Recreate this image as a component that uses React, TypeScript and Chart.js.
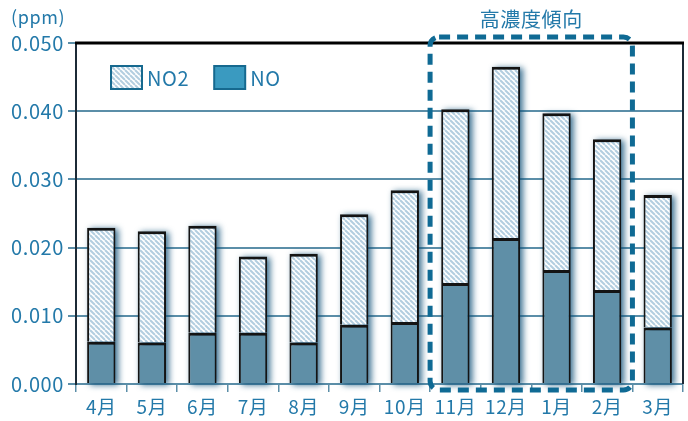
import React, { useEffect, useRef } from "react";
import { Chart, registerables } from "chart.js";

Chart.register(...registerables);

const months = ["4月", "5月", "6月", "7月", "8月", "9月", "10月", "11月", "12月", "1月", "2月", "3月"];
const noValues = [0.0062, 0.0061, 0.0075, 0.0075, 0.0061, 0.0087, 0.0091, 0.0148, 0.0214, 0.0167, 0.0138, 0.0083];
const no2Values = [0.0167, 0.0163, 0.0157, 0.0112, 0.013, 0.0162, 0.0193, 0.0255, 0.0251, 0.023, 0.0221, 0.0194];
const yTicks = [0, 0.01, 0.02, 0.03, 0.04, 0.05];
const highStartIndex = 7; // 11月
const highEndIndex = 10; // 2月
const highLabel = "高濃度傾向";
const unitLabel = "(ppm)";

const TEXT = "#2379a9";
const GRID = "#5b8ea8";
const NO_FILL = "#5f8fa7";
const LEGEND_NO_FILL = "#3a9ac0";
const LEGEND_BORDER = "#16698f";
const DASH = "#0f6a94";
const FONT = "'Noto Sans CJK JP', 'Noto Sans', sans-serif";

function makeHatch(): CanvasPattern | string {
  const p = 5;
  const c = document.createElement("canvas");
  c.width = p;
  c.height = p;
  const g = c.getContext("2d");
  if (!g) return "#ffffff";
  g.fillStyle = "#ffffff";
  g.fillRect(0, 0, p, p);
  g.strokeStyle = "#b3cee0";
  g.lineWidth = 2;
  for (const x0 of [-p, 0, p]) {
    g.beginPath();
    g.moveTo(x0, 0);
    g.lineTo(x0 + p, p);
    g.stroke();
  }
  const pat = g.createPattern(c, "repeat");
  return pat || "#ffffff";
}

export default function App() {
  const ref = useRef<HTMLCanvasElement | null>(null);

  useEffect(() => {
    const canvas = ref.current;
    if (!canvas) return;
    const hatch = makeHatch();

    const spacingPlugin = {
      id: "spacing",
      beforeDraw(chart: any) {
        (chart.ctx as any).letterSpacing = "0.6px";
      },
    };

    const shadowPlugin = {
      id: "barShadow",
      beforeDatasetsDraw(chart: any) {
        const ctx = chart.ctx;
        const base = chart.scales.y.getPixelForValue(0);
        const topMeta = chart.getDatasetMeta(chart.data.datasets.length - 1);
        ctx.save();
        ctx.filter = "blur(3px)";
        ctx.fillStyle = "rgba(15,80,120,0.8)";
        topMeta.data.forEach((el: any) => {
          const props = el.getProps(["x", "y", "width"], true);
          const l = props.x - props.width / 2;
          ctx.fillRect(l + 3, props.y + 1, props.width, base - props.y);
        });
        ctx.restore();
      },
    };

    const framePlugin = {
      id: "frame",
      afterDatasetsDraw(chart: any) {
        const { ctx, chartArea } = chart;
        const { left, right, top, bottom } = chartArea;
        ctx.save();
        ctx.strokeStyle = "#1c2a36";
        ctx.lineWidth = 2;
        ctx.beginPath();
        ctx.moveTo(left, top);
        ctx.lineTo(left, bottom);
        ctx.moveTo(right, top);
        ctx.lineTo(right, bottom);
        ctx.stroke();
        ctx.strokeStyle = "#000000";
        ctx.lineWidth = 3;
        ctx.beginPath();
        ctx.moveTo(left - 1, top);
        ctx.lineTo(right + 1, top);
        ctx.stroke();

        // unit label
        ctx.fillStyle = TEXT;
        ctx.font = `18px ${FONT}`;
        ctx.textAlign = "left";
        ctx.textBaseline = "middle";
        ctx.fillText(unitLabel, 11, 17);

        // legend
        const items = [
          { label: chart.data.datasets[1].label, fill: hatch },
          { label: chart.data.datasets[0].label, fill: LEGEND_NO_FILL },
        ];
        let x = left + 35;
        const y = top + 23;
        ctx.font = `20px ${FONT}`;
        items.forEach((it) => {
          ctx.fillStyle = it.fill as any;
          ctx.fillRect(x, y, 31, 23);
          ctx.strokeStyle = LEGEND_BORDER;
          ctx.lineWidth = 2;
          ctx.strokeRect(x, y, 31, 23);
          ctx.fillStyle = TEXT;
          ctx.fillText(it.label, x + 36, y + 12);
          x += 36 + ctx.measureText(it.label).width + 25;
        });
        ctx.restore();
      },
      afterDraw(chart: any) {
        const { ctx, chartArea } = chart;
        const xs = chart.scales.x;
        const x1 = (xs.getPixelForValue(highStartIndex - 1) + xs.getPixelForValue(highStartIndex)) / 2;
        const x2 = (xs.getPixelForValue(highEndIndex) + xs.getPixelForValue(highEndIndex + 1)) / 2;
        const y1 = chartArea.top - 6;
        const y2 = chartArea.bottom + 6;
        const r = 9;
        ctx.save();
        ctx.strokeStyle = DASH;
        ctx.lineWidth = 5;
        ctx.setLineDash([11, 7]);
        ctx.beginPath();
        ctx.moveTo(x1 + r, y1);
        ctx.lineTo(x2 - r, y1);
        ctx.arcTo(x2, y1, x2, y1 + r, r);
        ctx.lineTo(x2, y2 - r);
        ctx.arcTo(x2, y2, x2 - r, y2, r);
        ctx.lineTo(x1 + r, y2);
        ctx.arcTo(x1, y2, x1, y2 - r, r);
        ctx.lineTo(x1, y1 + r);
        ctx.arcTo(x1, y1, x1 + r, y1, r);
        ctx.closePath();
        ctx.stroke();
        ctx.setLineDash([]);
        ctx.fillStyle = TEXT;
        ctx.font = `20px ${FONT}`;
        ctx.textAlign = "center";
        ctx.textBaseline = "middle";
        ctx.fillText(highLabel, (x1 + x2) / 2, 19);
        ctx.restore();
      },
    };

    const barBorder = { top: 3, left: 2, right: 2, bottom: 0 };

    const chart = new Chart(canvas, {
      type: "bar",
      data: {
        labels: months,
        datasets: [
          {
            label: "NO",
            data: noValues,
            backgroundColor: NO_FILL,
            borderColor: "#141414",
            borderWidth: barBorder,
            borderSkipped: false,
            barPercentage: 0.56,
            categoryPercentage: 1,
          },
          {
            label: "NO2",
            data: no2Values,
            backgroundColor: hatch as any,
            borderColor: "#141414",
            borderWidth: barBorder,
            borderSkipped: false,
            barPercentage: 0.56,
            categoryPercentage: 1,
          },
        ],
      },
      options: {
        responsive: false,
        animation: false,
        devicePixelRatio: 1,
        layout: { padding: { top: 43, right: 5, left: 0, bottom: 0 } },
        plugins: { legend: { display: false }, tooltip: { enabled: false } },
        scales: {
          x: {
            stacked: true,
            offset: true,
            afterFit: (s: any) => {
              s.height = 37;
            },
            grid: {
              display: true,
              drawOnChartArea: false,
              offset: true,
              tickLength: 8,
              color: GRID,
              lineWidth: 1.5,
            },
            border: { display: true, color: GRID, width: 2 },
            ticks: {
              color: TEXT,
              font: { family: FONT, size: 19 },
              padding: 3,
              maxRotation: 0,
              autoSkip: false,
            },
          },
          y: {
            stacked: true,
            min: 0,
            max: 0.05,
            afterFit: (s: any) => {
              s.width = 76;
            },
            afterBuildTicks: (s: any) => {
              s.ticks = yTicks.map((v) => ({ value: v }));
            },
            grid: { color: GRID, lineWidth: 2, tickLength: 8 },
            border: { display: true, color: "#1c2a36", width: 2 },
            ticks: {
              color: TEXT,
              font: { family: FONT, size: 20 },
              padding: 4,
              callback: (v: any) => Number(v).toFixed(3),
            },
          },
        },
      },
      plugins: [spacingPlugin, shadowPlugin, framePlugin],
    });

    return () => chart.destroy();
  }, []);

  return (
    <div style={{ position: "fixed", left: 0, top: 0, width: 688, height: 421, background: "#ffffff" }}>
      <canvas ref={ref} width={688} height={421} style={{ display: "block" }} />
    </div>
  );
}
